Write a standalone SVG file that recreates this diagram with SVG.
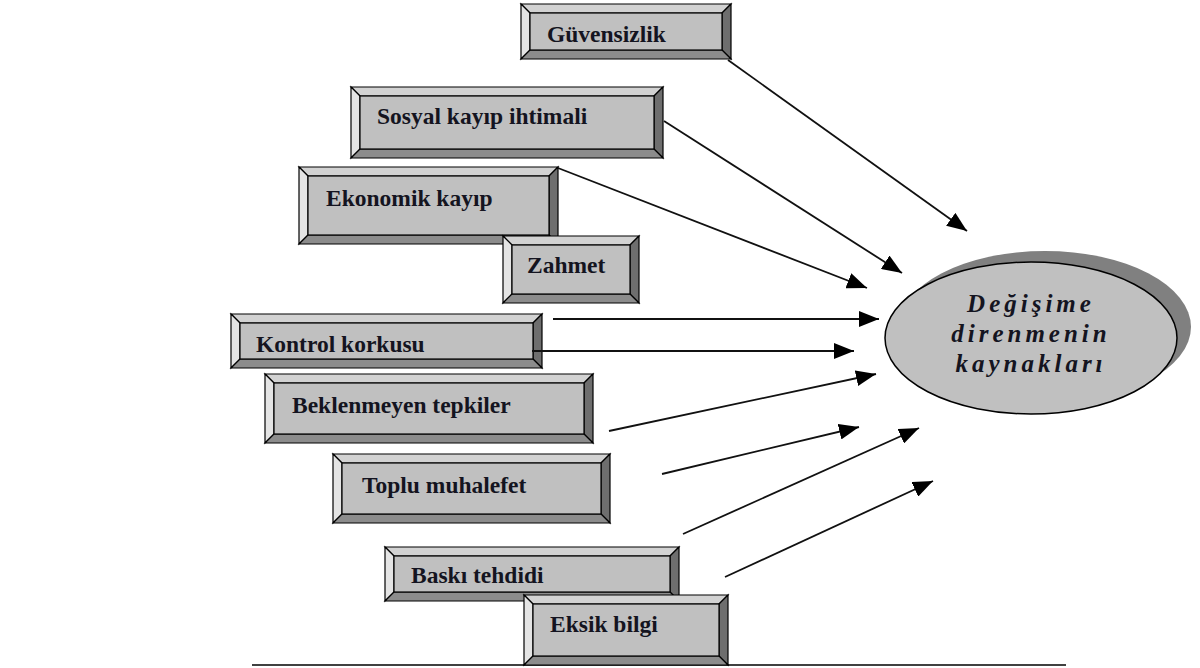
<svg xmlns="http://www.w3.org/2000/svg" width="1200" height="668" viewBox="0 0 1200 668">
<style>
.bt{fill:#d2d2d2;stroke:#000;stroke-width:1.2}
.bl{fill:#e4e4e4;stroke:#000;stroke-width:1.2}
.br{fill:#6e6e6e;stroke:#000;stroke-width:1.2}
.bb{fill:#8c8c8c;stroke:#000;stroke-width:1.2}
.face{fill:#c0c0c0;stroke:#000;stroke-width:1.2}
.lbl{font-family:"Liberation Serif","Times New Roman",serif;font-weight:bold;font-size:23.5px;fill:#141420}
.etx{font-family:"Liberation Serif","Times New Roman",serif;font-weight:bold;font-style:italic;font-size:25px;letter-spacing:4px;fill:#141420;text-anchor:middle}
.con{stroke:#111;stroke-width:1.8;fill:none;marker-end:url(#ah)}
</style>
<defs>
<marker id="ah" markerUnits="userSpaceOnUse" markerWidth="20" markerHeight="16" refX="20" refY="8" orient="auto" viewBox="0 0 20 16">
<path d="M0,0 L20,8 L0,16 Z" fill="#000"/>
</marker>
</defs>
<rect width="1200" height="668" fill="#fff"/>
<line x1="252" y1="665" x2="1066" y2="665" stroke="#000" stroke-width="1.6"/>

<g id="target">
<ellipse cx="1045" cy="327" rx="146" ry="76" fill="#808080"/>
<ellipse cx="1031" cy="338" rx="146" ry="76" fill="#c0c0c0" stroke="#000" stroke-width="1.5"/>
<text class="etx" x="1031" y="312">Değişime</text>
<text class="etx" x="1031" y="342">direnmenin</text>
<text class="etx" x="1031" y="372">kaynakları</text>
</g>

<g id="guvensizlik">
<polygon class="bt" points="521,4 731,4 722,13 530,13"/>
<polygon class="bl" points="521,4 530,13 530,50 521,59"/>
<polygon class="br" points="731,4 731,59 722,50 722,13"/>
<polygon class="bb" points="521,59 530,50 722,50 731,59"/>
<rect class="face" x="530" y="13" width="192" height="37"/>
<text class="lbl" x="547" y="42">Güvensizlik</text>
</g>

<g id="sosyal">
<polygon class="bt" points="351,87 663,87 654,96 360,96"/>
<polygon class="bl" points="351,87 360,96 360,149 351,158"/>
<polygon class="br" points="663,87 663,158 654,149 654,96"/>
<polygon class="bb" points="351,158 360,149 654,149 663,158"/>
<rect class="face" x="360" y="96" width="294" height="53"/>
<text class="lbl" x="377" y="124">Sosyal kayıp ihtimali</text>
</g>

<g id="ekonomik">
<polygon class="bt" points="299,167 558,167 549,176 308,176"/>
<polygon class="bl" points="299,167 308,176 308,235 299,244"/>
<polygon class="br" points="558,167 558,244 549,235 549,176"/>
<polygon class="bb" points="299,244 308,235 549,235 558,244"/>
<rect class="face" x="308" y="176" width="241" height="59"/>
<text class="lbl" x="326" y="206">Ekonomik kayıp</text>
</g>

<g id="zahmet">
<polygon class="bt" points="503,236 639,236 630,245 512,245"/>
<polygon class="bl" points="503,236 512,245 512,294 503,303"/>
<polygon class="br" points="639,236 639,303 630,294 630,245"/>
<polygon class="bb" points="503,303 512,294 630,294 639,303"/>
<rect class="face" x="512" y="245" width="118" height="49"/>
<text class="lbl" x="527" y="273">Zahmet</text>
</g>

<g id="kontrol">
<polygon class="bt" points="231,314 542,314 533,323 240,323"/>
<polygon class="bl" points="231,314 240,323 240,359 231,368"/>
<polygon class="br" points="542,314 542,368 533,359 533,323"/>
<polygon class="bb" points="231,368 240,359 533,359 542,368"/>
<rect class="face" x="240" y="323" width="293" height="36"/>
<text class="lbl" x="256" y="352">Kontrol korkusu</text>
</g>

<g id="beklenmeyen">
<polygon class="bt" points="265,374 593,374 584,383 274,383"/>
<polygon class="bl" points="265,374 274,383 274,434 265,443"/>
<polygon class="br" points="593,374 593,443 584,434 584,383"/>
<polygon class="bb" points="265,443 274,434 584,434 593,443"/>
<rect class="face" x="274" y="383" width="310" height="51"/>
<text class="lbl" x="292" y="413">Beklenmeyen tepkiler</text>
</g>

<g id="toplu">
<polygon class="bt" points="333,454 610,454 601,463 342,463"/>
<polygon class="bl" points="333,454 342,463 342,514 333,523"/>
<polygon class="br" points="610,454 610,523 601,514 601,463"/>
<polygon class="bb" points="333,523 342,514 601,514 610,523"/>
<rect class="face" x="342" y="463" width="259" height="51"/>
<text class="lbl" x="362" y="493">Toplu muhalefet</text>
</g>

<g id="baski">
<polygon class="bt" points="385,547 679,547 670,556 394,556"/>
<polygon class="bl" points="385,547 394,556 394,592 385,601"/>
<polygon class="br" points="679,547 679,601 670,592 670,556"/>
<polygon class="bb" points="385,601 394,592 670,592 679,601"/>
<rect class="face" x="394" y="556" width="276" height="36"/>
<text class="lbl" x="411" y="583">Baskı tehdidi</text>
</g>

<g id="eksik">
<polygon class="bt" points="524,595 728,595 719,604 533,604"/>
<polygon class="bl" points="524,595 533,604 533,656 524,665"/>
<polygon class="br" points="728,595 728,665 719,656 719,604"/>
<polygon class="bb" points="524,665 533,656 719,656 728,665"/>
<rect class="face" x="533" y="604" width="186" height="52"/>
<text class="lbl" x="550" y="632">Eksik bilgi</text>
</g>

<g id="connectors">
<line class="con" x1="728" y1="60" x2="967" y2="231"/>
<line class="con" x1="664" y1="121" x2="902" y2="273"/>
<line class="con" x1="558" y1="168" x2="867" y2="288"/>
<line class="con" x1="553" y1="319" x2="879" y2="319"/>
<line class="con" x1="532" y1="351" x2="854" y2="351"/>
<line class="con" x1="609" y1="431" x2="876" y2="374"/>
<line class="con" x1="662" y1="474" x2="859" y2="427"/>
<line class="con" x1="683" y1="534" x2="919" y2="428"/>
<line class="con" x1="725" y1="577" x2="933" y2="481"/>
</g>
</svg>
